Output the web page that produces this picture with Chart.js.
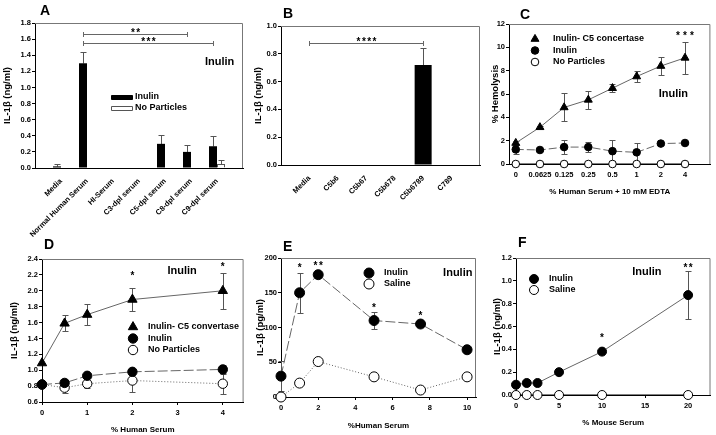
<!DOCTYPE html>
<html>
<head>
<meta charset="utf-8">
<script src="https://cdn.jsdelivr.net/npm/chart.js@4.4.0/dist/chart.umd.min.js"></script>
<style>
  html, body { margin: 0; padding: 0; background: #fff; overflow: hidden; }
  #wrap { position: relative; width: 716px; height: 435px; }
  canvas { position: absolute; }
  .lbl { position: absolute; font: bold 14px "Liberation Sans", Arial, sans-serif; line-height: 14px; color: #000; }
</style>
</head>
<body>
<div id="wrap">
  <canvas id="cD"></canvas>
  <canvas id="cE"></canvas>
  <canvas id="cF"></canvas>
  <canvas id="cA"></canvas>
  <canvas id="cB"></canvas>
  <canvas id="cC"></canvas>
  <div class="lbl" style="left:40px;top:3px">A</div>
  <div class="lbl" style="left:283px;top:6px">B</div>
  <div class="lbl" style="left:520px;top:7px">C</div>
  <div class="lbl" style="left:44px;top:237px">D</div>
  <div class="lbl" style="left:283px;top:239px">E</div>
  <div class="lbl" style="left:518px;top:235px">F</div>
</div>
<script>
// ---- data ----
const catsA = ['Media', 'Normal Human Serum', 'HI-Serum', 'C3-dpl serum', 'C5-dpl serum', 'C8-dpl serum', 'C9-dpl serum'];
const inulinA = [0.02, 1.30, 0, 0, 0.30, 0.20, 0.27];
const inulinErrA = [0.025, 0.14, 0, 0, 0.11, 0.085, 0.13];
const noPartA = [0, 0, 0, 0, 0, 0, 0.05];
const noPartErrA = [0, 0, 0, 0, 0, 0, 0.05];
const bracketsA = [{from: 1, to: 5, y: 1.66, t: '**'}, {from: 1, to: 6, y: 1.55, t: '***'}];

const catsB = ['Media', 'C5b6', 'C5b67', 'C5b678', 'C5b6789', 'C789'];
const valsB = [0, 0, 0, 0, 0.72, 0];
const errB = [0, 0, 0, 0, 0.12, 0];
const bracketsB = [{from: 0, to: 4, y: 0.88, t: '****'}];

const serumC = ['0', '0.0625', '0.125', '0.25', '0.5', '1', '2', '4'];
const convC = [1.8, 3.15, 4.85, 5.5, 6.5, 7.5, 8.4, 9.1];
const convErrC = [0.15, 0.1, 1.2, 0.8, 0.35, 0.5, 0.75, 1.4];
const inulinC = [1.25, 1.2, 1.45, 1.45, 1.1, 1.0, 1.75, 1.8];
const inulinErrC = [0.35, 0.1, 0.6, 0.45, 0.95, 0.8, 0.1, 0.1];
const noPartC = [0, 0, 0, 0, 0, 0, 0, 0];
const starsC = [{x: 7, y: 11.2, t: '***'}];

const serumD = [0, 0.5, 1, 2, 4];
const convD = [1.09, 1.59, 1.70, 1.89, 2.00];
const convErrD = [0, 0.10, 0.13, 0.15, 0.23];
const inulinD = [0.82, 0.84, 0.93, 0.98, 1.01];
const inulinErrD = [0, 0.02, 0, 0.03, 0.06];
const noPartD = [0.82, 0.78, 0.83, 0.87, 0.83];
const noPartErrD = [0.02, 0.07, 0.05, 0.15, 0.13];
const starsD = [{x: 2, y: 2.22, t: '*'}, {x: 4, y: 2.34, t: '*'}];

const serumE = [0, 1, 2, 5, 7.5, 10];
const inulinE = [30, 150, 176, 110, 105, 68];
const inulinErrE = [22, 29, 3, 12, 3, 3];
const salineE = [0, 20, 51, 29, 10, 29];
const starsE = [{x: 1, y: 190, t: '*'}, {x: 2, y: 193, t: '**'}, {x: 5, y: 132, t: '*'}, {x: 7.5, y: 121, t: '*'}];

const serumF = [0, 1.25, 2.5, 5, 10, 20];
const inulinF = [0.09, 0.105, 0.105, 0.2, 0.38, 0.875];
const inulinErrF = [0, 0, 0, 0, 0, 0.21];
const salineF = [0, 0, 0, 0, 0, 0];
const starsF = [{x: 10, y: 0.52, t: '*'}, {x: 20, y: 1.14, t: '**'}];

// ---- layout (canvas box + plot area in page pixels) ----
const BOX = {
  A: {x: 0, y: 0, w: 250, h: 240, l: 35, t: 23, r: 243, b: 168, yt: 7.5},
  B: {x: 250, y: 0, w: 235, h: 232, l: 281, t: 26, r: 480, b: 165, yt: 258},
  C: {x: 485, y: 0, w: 231, h: 232, l: 509, t: 24, r: 715, b: 164, yt: 495, xt: 192},
  D: {x: 0, y: 232, w: 250, h: 203, l: 42, t: 259, r: 245, b: 402, yt: 14, xt: 430},
  E: {x: 250, y: 232, w: 232, h: 203, l: 281, t: 258, r: 478, b: 397, yt: 260, xt: 426},
  F: {x: 482, y: 232, w: 234, h: 203, l: 516, t: 258, r: 713, b: 395, yt: 497, xt: 423}
};

const FONT = '"Liberation Sans", Arial, Helvetica, sans-serif';
Chart.defaults.font.family = FONT;
Chart.defaults.color = '#000';
Chart.defaults.animation = false;
Chart.defaults.events = [];
Chart.defaults.plugins.legend.display = false;
Chart.defaults.plugins.tooltip.enabled = false;

function drawStars(ctx, t, x, y, gap) {
  ctx.font = 'bold 10px ' + FONT;
  ctx.textAlign = 'center';
  ctx.textBaseline = 'alphabetic';
  ctx.fillStyle = '#000';
  for (let i = 0; i < t.length; i++) ctx.fillText('*', x + (i - (t.length - 1) / 2) * gap, y + 5.8);
}

function drawMarker(ctx, mk, x, y, r) {
  ctx.save();
  ctx.lineWidth = 1;
  ctx.strokeStyle = '#000';
  ctx.beginPath();
  if (mk === 'barFill' || mk === 'barOpen') {
    ctx.rect(Math.round(x - 10) + 0.5, Math.round(y - 2) + 0.5, 21, 4);
    ctx.fillStyle = mk === 'barFill' ? '#000' : '#fff';
    if (mk === 'barOpen') ctx.strokeStyle = '#555';
  } else if (mk === 'tri') {
    for (let k = 0; k < 3; k++) {
      const ang = k * 2 * Math.PI / 3;
      const px = x + Math.sin(ang) * r, py = y - Math.cos(ang) * r;
      k ? ctx.lineTo(px, py) : ctx.moveTo(px, py);
    }
    ctx.closePath();
    ctx.fillStyle = '#000';
  } else {
    ctx.arc(x, y, r, 0, 2 * Math.PI);
    ctx.fillStyle = mk === 'ring' ? '#fff' : '#000';
  }
  ctx.fill();
  ctx.stroke();
  ctx.restore();
}

// frame, error bars, brackets, stars, notes and legend
const extras = {
  id: 'extras',
  beforeDatasetsDraw(chart) {
    const {ctx, chartArea: a, scales: {y}} = chart;
    ctx.save();
    ctx.lineWidth = 1;
    ctx.strokeStyle = '#777';
    ctx.beginPath();
    ctx.moveTo(a.left, a.top + 0.5);
    ctx.lineTo(a.right - 0.5, a.top + 0.5);
    ctx.lineTo(a.right - 0.5, a.bottom);
    ctx.stroke();
    ctx.strokeStyle = '#555';
    chart.data.datasets.forEach((ds, di) => {
      if (!ds.err) return;
      chart.getDatasetMeta(di).data.forEach((el, i) => {
        const e = ds.err[i];
        if (!e) return;
        const v = ds.data[i].y;
        const hi = Math.round(y.getPixelForValue(v + e)) + 0.5;
        const lo = Math.round(y.getPixelForValue(ds.upOnly ? v : v - e)) + 0.5;
        const x = Math.round(el.x) + 0.5;
        ctx.beginPath();
        ctx.moveTo(x, hi); ctx.lineTo(x, lo);
        ctx.moveTo(x - 3, hi); ctx.lineTo(x + 3, hi);
        if (!ds.upOnly) { ctx.moveTo(x - 3, lo); ctx.lineTo(x + 3, lo); }
        ctx.stroke();
      });
    });
    ctx.restore();
  },
  afterDatasetsDraw(chart, args, o) {
    const {ctx, chartArea: a, scales: {x, y}} = chart;
    const gap = o.gap || 5.3;
    ctx.save();
    (o.brackets || []).forEach(bk => {
      const m = chart.getDatasetMeta(0).data;
      const x1 = Math.round(m[bk.from].x) + 0.5, x2 = Math.round(m[bk.to].x) + 0.5;
      const yy = Math.round(y.getPixelForValue(bk.y)) + 0.5;
      ctx.strokeStyle = '#666';
      ctx.lineWidth = 1;
      ctx.beginPath();
      ctx.moveTo(x1, yy); ctx.lineTo(x2, yy);
      ctx.moveTo(x1, yy - 2.5); ctx.lineTo(x1, yy + 2.5);
      ctx.moveTo(x2, yy - 2.5); ctx.lineTo(x2, yy + 2.5);
      ctx.stroke();
      drawStars(ctx, bk.t, (x1 + x2) / 2, yy - 4, gap);
    });
    (o.stars || []).forEach(s => drawStars(ctx, s.t, x.getPixelForValue(s.x), y.getPixelForValue(s.y), gap));
    if (o.note) {
      ctx.font = 'bold 11px ' + FONT;
      ctx.textAlign = 'center';
      ctx.textBaseline = 'middle';
      ctx.fillStyle = '#000';
      ctx.fillText(o.note.t, x.getPixelForValue(o.note.x), y.getPixelForValue(o.note.y));
    }
    if (o.legend) {
      const L = o.legend;
      chart.data.datasets.forEach((ds, i) => {
        const my = a.top + L.dy + i * L.gap;
        drawMarker(ctx, ds.mk, a.left + L.dx, my, ds.pointRadius || 0);
        ctx.font = 'bold 9px ' + FONT;
        ctx.textAlign = 'left';
        ctx.textBaseline = 'middle';
        ctx.fillStyle = '#000';
        ctx.fillText(ds.label, a.left + L.tx, my);
      });
    }
    ctx.restore();
  }
};

function yAxis(b, min, max, step, dec, text) {
  return {
    type: 'linear', min, max,
    ticks: {stepSize: step, callback: v => v.toFixed(dec), font: {size: 7.5, weight: 'bold'}, color: '#000', padding: 1},
    grid: {drawOnChartArea: false, color: '#000', tickLength: 3},
    border: {color: '#000'},
    title: {display: true, text, color: '#000', font: {size: 9.5, weight: 'bold'},
            padding: {top: b.yt - b.x - 5.7, bottom: 0}},
    afterFit: s => { s.width = b.l - b.x; }
  };
}

function xAxis(b, min, max, at, fmt, text, rot) {
  return {
    type: 'linear', min, max, offset: false,
    afterBuildTicks: s => { s.ticks = at.map(v => ({value: v})); },
    ticks: {callback: fmt, autoSkip: false, minRotation: rot || 0, maxRotation: rot || 0,
            font: {size: 7.5, weight: 'bold'}, color: '#000', padding: rot ? 1 : 3},
    grid: rot ? {display: false} : {drawOnChartArea: false, color: '#000', tickLength: 3},
    border: {color: '#000'},
    title: text ? {display: true, text, color: '#000', font: {size: 8, weight: 'bold'},
                   padding: {top: 0, bottom: b.y + b.h - b.xt - 4.8}} : {display: false},
    afterFit: s => { s.height = b.y + b.h - b.b; }
  };
}

function barSet(label, mk, xs, ys, err, fill, border, thick) {
  return {
    label, mk, err, upOnly: true,
    data: xs.map((x, i) => ({x, y: ys[i]})),
    backgroundColor: fill, borderColor: border,
    borderWidth: c => (border && c.raw && c.raw.y ? 1 : 0),
    inflateAmount: 0, barThickness: thick
  };
}

function lineSet(label, xs, ys, err, mk, r, dash, color) {
  return {
    label, err, mk,
    data: xs.map((x, i) => ({x, y: ys[i]})),
    borderColor: color || '#666', borderWidth: 1, borderDash: dash || [],
    pointStyle: mk === 'tri' ? 'triangle' : 'circle',
    pointRadius: r,
    pointBackgroundColor: mk === 'ring' ? '#fff' : '#000',
    pointBorderColor: '#000', pointBorderWidth: 1,
    clip: false, tension: 0, fill: false
  };
}

function panel(key, type, datasets, xCfg, yCfg, ex) {
  const b = BOX[key];
  const cv = document.getElementById('c' + key);
  cv.width = b.w; cv.height = b.h;
  cv.style.left = b.x + 'px'; cv.style.top = b.y + 'px';
  return new Chart(cv, {
    type,
    data: {datasets},
    options: {
      responsive: false,
      devicePixelRatio: 1,
      layout: {padding: {left: 0, top: b.t - b.y, right: b.x + b.w - b.r, bottom: 0}},
      scales: {x: xCfg, y: yCfg},
      plugins: {extras: ex}
    },
    plugins: [extras]
  });
}

// ---- A ----
const idxA = catsA.map((c, i) => i + 1);
panel('A', 'bar', [
  barSet('Inulin', 'barFill', idxA, inulinA, inulinErrA, '#000', null, 8),
  barSet('No Particles', 'barOpen', idxA, noPartA, noPartErrA, '#fff', '#555', 8)
], xAxis(BOX.A, 0, 8, idxA, v => catsA[v - 1], null, 45),
   yAxis(BOX.A, 0, 1.8, 0.2, 1, 'IL-1β (ng/ml)'),
   {brackets: bracketsA, note: {t: 'Inulin', x: 7.1, y: 1.32}, legend: {dx: 86, dy: 74, gap: 11, tx: 100}});

// ---- B ----
const idxB = catsB.map((c, i) => i + 1);
panel('B', 'bar', [
  barSet('Inulin', 'barFill', idxB, valsB, errB, '#000', null, 17)
], xAxis(BOX.B, 0, 7, idxB, v => catsB[v - 1], null, 45),
   yAxis(BOX.B, 0, 1.0, 0.2, 1, 'IL-1β (ng/ml)'),
   {brackets: bracketsB});

// ---- C ----
const idxC = serumC.map((s, i) => i);
panel('C', 'line', [
  lineSet('Inulin- C5 concertase', idxC, convC, convErrC, 'tri', 4.6),
  lineSet('Inulin', idxC, inulinC, inulinErrC, 'dot', 3.8, [8, 3]),
  lineSet('No Particles', idxC, noPartC, null, 'ring', 3.8, [], '#000')
], xAxis(BOX.C, -0.28, 8.05, idxC, v => serumC[v], '% Human Serum + 10 mM EDTA'),
   yAxis(BOX.C, 0, 12, 2, 0, '% Hemolysis'),
   {stars: starsC, gap: 7, note: {t: 'Inulin', x: 6.52, y: 6.0}, legend: {dx: 26, dy: 15, gap: 11.5, tx: 44}});

// ---- D ----
panel('D', 'line', [
  lineSet('Inulin- C5 convertase', serumD, convD, convErrD, 'tri', 5.4),
  lineSet('Inulin', serumD, inulinD, inulinErrD, 'dot', 4.7, [10, 3]),
  lineSet('No Particles', serumD, noPartD, noPartErrD, 'ring', 4.7, [1, 2])
], xAxis(BOX.D, 0, 4.46, [0, 1, 2, 3, 4], v => String(v), '% Human Serum'),
   yAxis(BOX.D, 0.6, 2.4, 0.2, 1, 'IL-1β (ng/ml)'),
   {stars: starsD, note: {t: 'Inulin', x: 3.1, y: 2.25}, legend: {dx: 91, dy: 68, gap: 11.5, tx: 106}});

// ---- E ----
panel('E', 'line', [
  lineSet('Inulin', serumE, inulinE, inulinErrE, 'dot', 5, [10, 3]),
  lineSet('Saline', serumE, salineE, null, 'ring', 5, [1, 2])
], xAxis(BOX.E, 0, 10.48, [0, 2, 4, 6, 8, 10], v => String(v), '%Human Serum'),
   yAxis(BOX.E, 0, 200, 50, 0, 'IL-1β (pg/ml)'),
   {stars: starsE, note: {t: 'Inulin', x: 9.5, y: 178}, legend: {dx: 88, dy: 15, gap: 11, tx: 103}});

// ---- F ----
panel('F', 'line', [
  lineSet('Inulin', serumF, inulinF, inulinErrF, 'dot', 4.5),
  lineSet('Saline', serumF, salineF, null, 'ring', 4.5, [], '#000')
], xAxis(BOX.F, 0, 22.6, [0, 5, 10, 15, 20], v => String(v), '% Mouse Serum'),
   yAxis(BOX.F, 0, 1.2, 0.2, 1, 'IL-1β (ng/ml)'),
   {stars: starsF, note: {t: 'Inulin', x: 15.2, y: 1.08}, legend: {dx: 18, dy: 21, gap: 11, tx: 33}});
</script>
</body>
</html>
